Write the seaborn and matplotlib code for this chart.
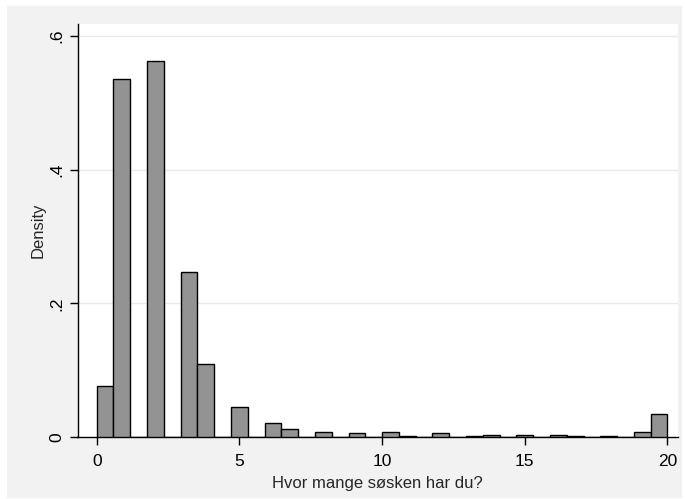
import numpy as np
import pandas as pd
import matplotlib
matplotlib.use("Agg")
import matplotlib.pyplot as plt
import seaborn as sns
from matplotlib.patches import Rectangle

# Number of siblings and the density shown for each value
siblings = list(range(21))
density = [0.077, 0.536, 0.563, 0.247, 0.109, 0.045, 0.0205, 0.0115,
           0.008, 0.0065, 0.008, 0.0008, 0.0055, 0.0008, 0.003, 0.0025,
           0.003, 0.0008, 0.0022, 0.0075, 0.0344]

n_bins = 34
x_ticks = [0, 5, 10, 15, 20]
y_ticks = [0, 0.2, 0.4, 0.6]
y_ticklabels = ["0", ".2", ".4", ".6"]

df = pd.DataFrame({"siblings": siblings, "density": density})

sns.set_style("ticks")
plt.rcParams["font.family"] = ["Liberation Sans", "DejaVu Sans"]

W, H = 685, 499
fig = plt.figure(figsize=(W / 100, H / 100), dpi=100)
fig.patch.set_facecolor("white")
# light gray graph region
fig.patches.append(Rectangle((7 / W, 1 - 498 / H), 675 / W, 492 / H,
                             transform=fig.transFigure, facecolor="#f2f2f2",
                             edgecolor="none", zorder=-10))

ax = fig.add_axes([77.5 / W, 1 - 437 / H, (678 - 77.5) / W, (437 - 24) / H])
ax.set_facecolor("white")

sns.histplot(data=df, x="siblings", weights="density", bins=n_bins,
             binrange=(0, 20), stat="count",
             color="#939393", edgecolor="black", linewidth=1.0, alpha=1.0, ax=ax,
             zorder=3)

ax.set_xlim(-0.673, 20.37)
ax.set_ylim(0, 0.618)

for v in y_ticks[1:]:
    ax.axhline(v, color="#eaeaea", linewidth=1.0, zorder=1)

ax.set_xticks(x_ticks)
ax.set_xticklabels([str(t) for t in x_ticks])
ax.set_yticks(y_ticks)
ax.set_yticklabels(y_ticklabels, rotation=90, va="center")

ax.tick_params(axis="both", direction="out", length=5.5, width=1, colors="black",
               labelsize=12.5)
ax.tick_params(axis="x", pad=6.5)
ax.tick_params(axis="y", pad=4)

for side in ["top", "right"]:
    ax.spines[side].set_visible(False)
for side in ["left", "bottom"]:
    ax.spines[side].set_color("black")
    ax.spines[side].set_linewidth(1.0)

ax.set_xlabel("Hvor mange søsken har du?", fontsize=12, labelpad=5.5)
ax.set_ylabel("Density", fontsize=12, labelpad=3)

fig.savefig("out.png", dpi=100, facecolor=fig.get_facecolor())
